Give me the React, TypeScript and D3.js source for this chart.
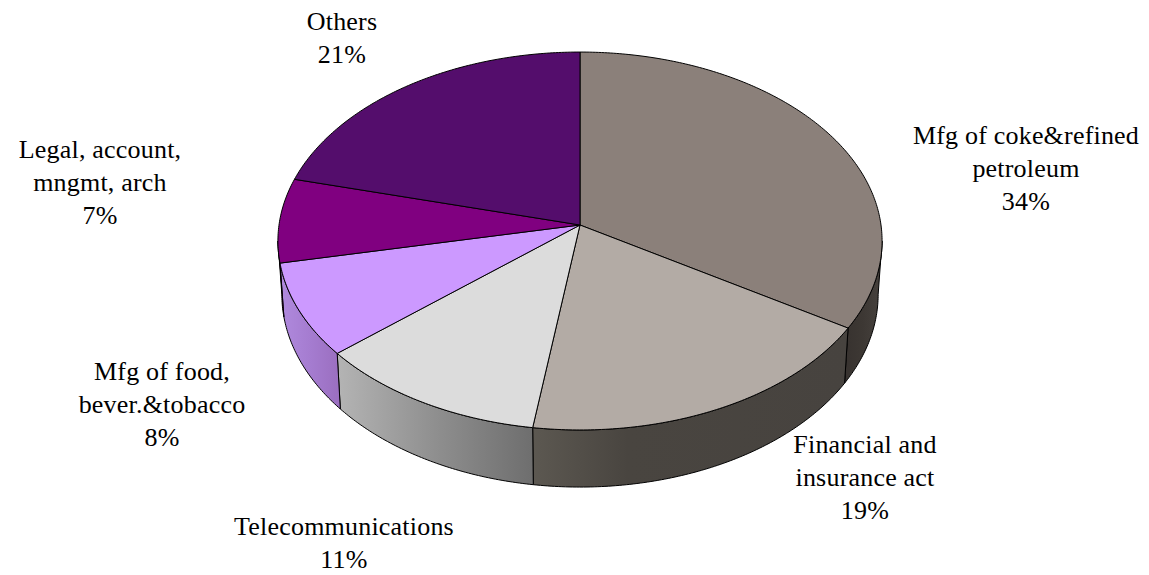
import React from "react";
import * as d3 from "d3";

const categories = [
  ["Mfg of coke&refined", "petroleum"],
  ["Financial and", "insurance act"],
  ["Telecommunications"],
  ["Mfg of food,", "bever.&tobacco"],
  ["Legal, account,", "mngmt, arch"],
  ["Others"],
];
const percentLabels = ["34%", "19%", "11%", "8%", "7%", "21%"];
const sliceValues = [33.8, 18.5, 11.5, 8, 7.2, 21];
const topColors = ["#8b807a", "#b3aba5", "#dcdcdc", "#cc99ff", "#800080", "#540d6c"];
const wallFrom = ["#37322f", "#5c5851", "#b4b4b4", "#b08ade", "#800080", "#540d6c"];
const wallMid = ["#3d3834", "#494540", "#8f8f8f", "#a57cd0", "#800080", "#540d6c"];
const wallTo = ["#47423e", "#47433f", "#6e6e6e", "#9a6ebf", "#800080", "#540d6c"];
const labelCentres = [
  [1026, 144],
  [865, 453],
  [344, 535],
  [162, 380],
  [100, 158],
  [342, 30],
];

const W = 1149;
const H = 575;
const apexX = 580;
const apexY = 225;
const a = 301;
const b = 187.6;
const k = 0.0847;
const lineGap = 33;
const wallInset = 0.987;
const wallStretch = 1.02;
const wallDrop = 53;
const TAU = Math.PI * 2;
const horizon = Math.asin(k);

const angle = d3.scaleLinear().domain([0, 1]);
const pieGen = d3.pie<number>().sort(null).startAngle(0).endAngle(TAU);

const project = (t: number): [number, number] => {
  const X = Math.sin(t);
  const Y = -Math.cos(t);
  const w = 1 - k * Y;
  return [apexX + (a * X) / w, apexY + (b * Y) / w];
};
const projectLow = (t: number): [number, number] => {
  const [x, y] = project(t);
  return [apexX + (x - apexX) * wallInset, apexY + wallDrop + (y - apexY) * wallStretch];
};
const samples = (t0: number, t1: number) => {
  const n = Math.max(2, Math.ceil(Math.abs(t1 - t0) * 90));
  angle.range([t0, t1]);
  return d3.range(n + 1).map((i) => angle(i / n));
};
const line = d3.line<[number, number]>().curve(d3.curveLinear);

export default function App() {
  const arcs = pieGen(sliceValues);
  const wallStart = Math.PI / 2 + horizon;
  const wallEnd = (3 * Math.PI) / 2 - horizon;
  const walls = arcs
    .map((d, i) => ({
      i,
      t0: Math.max(d.startAngle, wallStart),
      t1: Math.min(d.endAngle, wallEnd),
    }))
    .filter((w) => w.t1 > w.t0)
    .map((w) => {
      const ts = samples(w.t0, w.t1);
      const upper = ts.map(project);
      const lower = ts.map(projectLow).reverse();
      const pts = [...upper, ...lower];
      const xs = d3.extent(pts, (p) => p[0]) as [number, number];
      return { ...w, pts, xs };
    });
  const font = "'Liberation Serif', serif";
  return (
    <svg
      width={W}
      height={H}
      viewBox={`0 0 ${W} ${H}`}
      style={{ position: "absolute", left: 0, top: 0, background: "#fff" }}
    >
      <defs>
        {walls.map((w) => (
          <linearGradient
            key={w.i}
            id={`wall${w.i}`}
            gradientUnits="userSpaceOnUse"
            x1={w.xs[0]}
            x2={w.xs[1]}
            y1={0}
            y2={0}
          >
            <stop offset="0%" stopColor={wallFrom[w.i]} />
            <stop offset={w.i === 1 ? "30%" : "50%"} stopColor={wallMid[w.i]} />
            <stop offset="100%" stopColor={wallTo[w.i]} />
          </linearGradient>
        ))}
      </defs>
      {walls.map((w) => (
        <path
          key={w.i}
          d={(line(w.pts) ?? "") + "Z"}
          fill={`url(#wall${w.i})`}
          stroke="#000"
          strokeWidth={1}
          strokeLinejoin="round"
        />
      ))}
      {arcs.map((d, i) => (
        <path
          key={i}
          d={
            `M${apexX},${apexY}L` +
            (line(samples(d.startAngle, d.endAngle).map(project)) ?? "").slice(1) +
            "Z"
          }
          fill={topColors[i]}
          stroke="#000"
          strokeWidth={1}
          strokeLinejoin="round"
        />
      ))}
      {categories.map((lines, i) => (
        <text
          key={i}
          x={labelCentres[i][0]}
          y={labelCentres[i][1]}
          textAnchor="middle"
          fontFamily={font}
          fontSize={26}
          letterSpacing={0.2}
          fill="#000"
        >
          {[...lines, percentLabels[i]].map((s, j) => (
            <tspan key={j} x={labelCentres[i][0]} dy={j === 0 ? 0 : lineGap}>
              {s}
            </tspan>
          ))}
        </text>
      ))}
    </svg>
  );
}
